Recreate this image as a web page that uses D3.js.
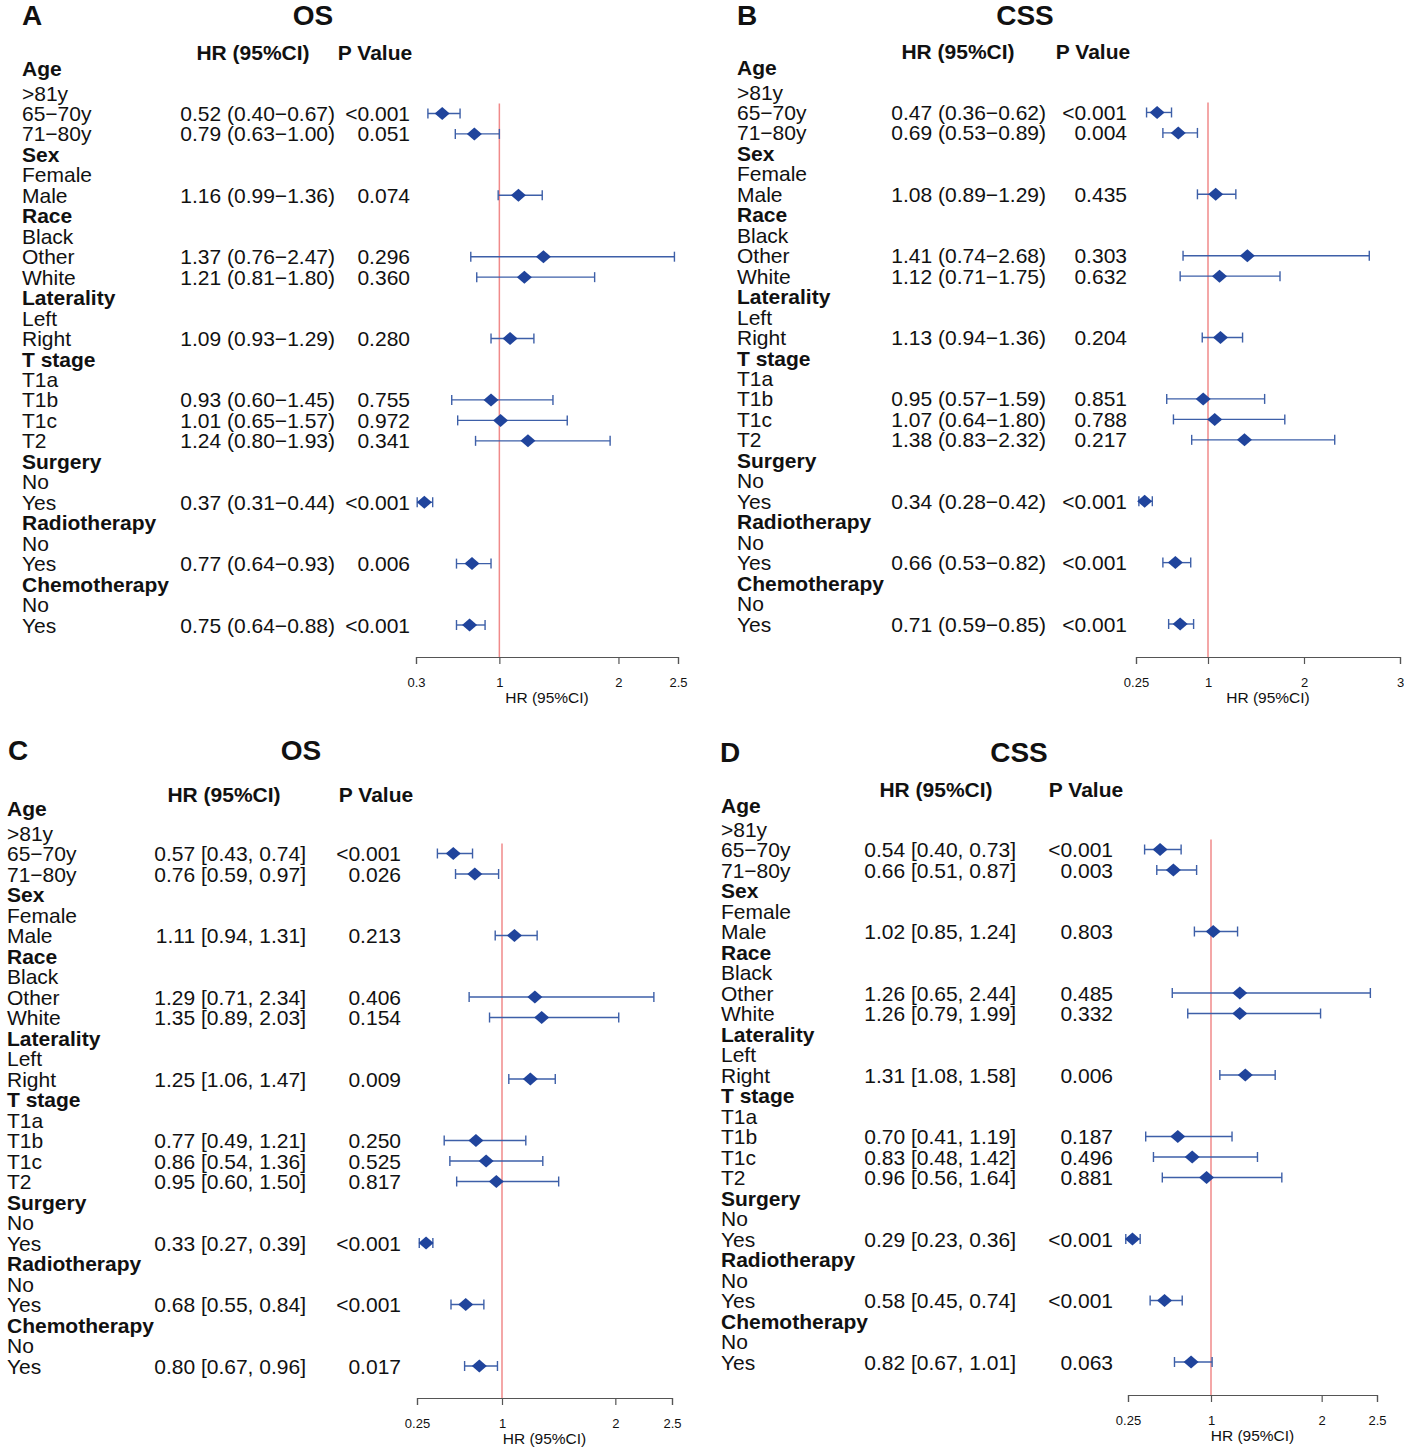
<!DOCTYPE html>
<html>
<head>
<meta charset="utf-8">
<script src="https://cdn.jsdelivr.net/npm/d3@7"></script>
<style>
  body { margin: 0; background: #fff; }
  svg text { font-family: "Liberation Sans", Arial, Helvetica, sans-serif; fill: #111; }
</style>
</head>
<body>
<svg id="chart" width="1404" height="1450"></svg>
<script>
// row labels shared by all four panels
const rowLabels = ['Age', '>81y', '65−70y', '71−80y', 'Sex', 'Female', 'Male',
  'Race', 'Black', 'Other', 'White', 'Laterality', 'Left', 'Right',
  'T stage', 'T1a', 'T1b', 'T1c', 'T2', 'Surgery', 'No', 'Yes',
  'Radiotherapy', 'No', 'Yes', 'Chemotherapy', 'No', 'Yes'];
const groupRows = [0, 4, 7, 11, 14, 19, 22, 25];
// rows that carry an estimate (others are headers / reference levels)
const estRows = [2, 3, 6, 9, 10, 13, 16, 17, 18, 21, 24, 27];

// Panel A - OS
const hrA = [0.52, 0.79, 1.16, 1.37, 1.21, 1.09, 0.93, 1.01, 1.24, 0.37, 0.77, 0.75];
const loA = [0.40, 0.63, 0.99, 0.76, 0.81, 0.93, 0.60, 0.65, 0.80, 0.31, 0.64, 0.64];
const hiA = [0.67, 1.00, 1.36, 2.47, 1.80, 1.29, 1.45, 1.57, 1.93, 0.44, 0.93, 0.88];
const pA = ['<0.001', '0.051', '0.074', '0.296', '0.360', '0.280', '0.755', '0.972', '0.341', '<0.001', '0.006', '<0.001'];
const ticksA = [0.3, 1, 2, 2.5];

// Panel B - CSS
const hrB = [0.47, 0.69, 1.08, 1.41, 1.12, 1.13, 0.95, 1.07, 1.38, 0.34, 0.66, 0.71];
const loB = [0.36, 0.53, 0.89, 0.74, 0.71, 0.94, 0.57, 0.64, 0.83, 0.28, 0.53, 0.59];
const hiB = [0.62, 0.89, 1.29, 2.68, 1.75, 1.36, 1.59, 1.80, 2.32, 0.42, 0.82, 0.85];
const pB = ['<0.001', '0.004', '0.435', '0.303', '0.632', '0.204', '0.851', '0.788', '0.217', '<0.001', '<0.001', '<0.001'];
const ticksB = [0.25, 1, 2, 3];

// Panel C - OS
const hrC = [0.57, 0.76, 1.11, 1.29, 1.35, 1.25, 0.77, 0.86, 0.95, 0.33, 0.68, 0.80];
const loC = [0.43, 0.59, 0.94, 0.71, 0.89, 1.06, 0.49, 0.54, 0.60, 0.27, 0.55, 0.67];
const hiC = [0.74, 0.97, 1.31, 2.34, 2.03, 1.47, 1.21, 1.36, 1.50, 0.39, 0.84, 0.96];
const pC = ['<0.001', '0.026', '0.213', '0.406', '0.154', '0.009', '0.250', '0.525', '0.817', '<0.001', '<0.001', '0.017'];
const ticksC = [0.25, 1, 2, 2.5];

// Panel D - CSS
const hrD = [0.54, 0.66, 1.02, 1.26, 1.26, 1.31, 0.70, 0.83, 0.96, 0.29, 0.58, 0.82];
const loD = [0.40, 0.51, 0.85, 0.65, 0.79, 1.08, 0.41, 0.48, 0.56, 0.23, 0.45, 0.67];
const hiD = [0.73, 0.87, 1.24, 2.44, 1.99, 1.58, 1.19, 1.42, 1.64, 0.36, 0.74, 1.01];
const pD = ['<0.001', '0.003', '0.803', '0.485', '0.332', '0.006', '0.187', '0.496', '0.881', '<0.001', '<0.001', '0.063'];
const ticksD = [0.25, 1, 2, 2.5];

const fmtParen = (h, l, u) => `${h.toFixed(2)} (${l.toFixed(2)}−${u.toFixed(2)})`;
const fmtBracket = (h, l, u) => `${h.toFixed(2)} [${l.toFixed(2)}, ${u.toFixed(2)}]`;

// layout: ageY = first label row, rowY1..rowY2 = remaining rows
const panels = [
  { letter: 'A', title: 'OS', hr: hrA, lo: loA, hi: hiA, p: pA, ticks: ticksA, fmt: fmtParen,
    letterX: 22, titleX: 313, titleY: 15, headY: 52, hrHeadX: 253, pHeadX: 375,
    labelX: 22, ageY: 68, rowY1: 93, rowY2: 625, hrEnd: 335, pEnd: 410, plotX0: 416, plotX1: 678, axisY: 657 },
  { letter: 'B', title: 'CSS', hr: hrB, lo: loB, hi: hiB, p: pB, ticks: ticksB, fmt: fmtParen,
    letterX: 737, titleX: 1025, titleY: 15, headY: 51, hrHeadX: 958, pHeadX: 1093,
    labelX: 737, ageY: 67, rowY1: 92, rowY2: 624, hrEnd: 1046, pEnd: 1127, plotX0: 1136, plotX1: 1400, axisY: 657 },
  { letter: 'C', title: 'OS', hr: hrC, lo: loC, hi: hiC, p: pC, ticks: ticksC, fmt: fmtBracket,
    letterX: 8, titleX: 301, titleY: 750, headY: 794, hrHeadX: 224, pHeadX: 376,
    labelX: 7, ageY: 808, rowY1: 833, rowY2: 1366, hrEnd: 306, pEnd: 401, plotX0: 417, plotX1: 672, axisY: 1398 },
  { letter: 'D', title: 'CSS', hr: hrD, lo: loD, hi: hiD, p: pD, ticks: ticksD, fmt: fmtBracket,
    letterX: 720, titleX: 1019, titleY: 752, headY: 789, hrHeadX: 936, pHeadX: 1086,
    labelX: 721, ageY: 805, rowY1: 829, rowY2: 1362, hrEnd: 1016, pEnd: 1113, plotX0: 1128, plotX1: 1377, axisY: 1395 }
];

const svg = d3.select('#chart');
const palette = { point: '#20449c', ci: '#3d5fa8', ref: '#f08a8a', axis: '#555' };

const drawPanel = (cfg) => {
  const g = svg.append('g');
  const x = d3.scaleLinear()
    .domain(d3.extent(cfg.ticks))
    .range([cfg.plotX0, cfg.plotX1]);
  const y = d3.scaleLinear()
    .domain([0, 1, rowLabels.length - 1])
    .range([cfg.ageY, cfg.rowY1, cfg.rowY2]);

  // panel letter and title
  g.append('text').attr('x', cfg.letterX).attr('y', cfg.titleY).attr('dy', '0.36em')
    .attr('font-size', 28).attr('font-weight', 'bold').text(cfg.letter);
  g.append('text').attr('x', cfg.titleX).attr('y', cfg.titleY).attr('dy', '0.36em')
    .attr('text-anchor', 'middle').attr('font-size', 28).attr('font-weight', 'bold').text(cfg.title);

  // column headers
  g.append('text').attr('x', cfg.hrHeadX).attr('y', cfg.headY).attr('dy', '0.36em')
    .attr('text-anchor', 'middle').attr('font-size', 21).attr('font-weight', 'bold').text('HR (95%CI)');
  g.append('text').attr('x', cfg.pHeadX).attr('y', cfg.headY).attr('dy', '0.36em')
    .attr('text-anchor', 'middle').attr('font-size', 21).attr('font-weight', 'bold').text('P Value');

  // row labels
  g.selectAll('text.label').data(rowLabels).enter()
    .append('text').attr('class', 'label')
    .attr('x', cfg.labelX)
    .attr('y', (d, i) => y(i))
    .attr('dy', '0.36em')
    .attr('font-size', 21)
    .attr('font-weight', (d, i) => (groupRows.includes(i) ? 'bold' : 'normal'))
    .text(d => d);

  const rows = estRows.map((r, i) => ({
    row: r, hr: cfg.hr[i], lo: cfg.lo[i], hi: cfg.hi[i], p: cfg.p[i],
  }));

  // HR text and p values
  g.selectAll('text.hr').data(rows).enter()
    .append('text').attr('class', 'hr')
    .attr('x', cfg.hrEnd).attr('y', d => y(d.row)).attr('dy', '0.36em')
    .attr('text-anchor', 'end').attr('font-size', 21)
    .text(d => cfg.fmt(d.hr, d.lo, d.hi));
  g.selectAll('text.pv').data(rows).enter()
    .append('text').attr('class', 'pv')
    .attr('x', cfg.pEnd).attr('y', d => y(d.row)).attr('dy', '0.36em')
    .attr('text-anchor', 'end').attr('font-size', 21)
    .text(d => d.p);

  // reference line at HR = 1
  g.append('line')
    .attr('x1', x(1)).attr('x2', x(1))
    .attr('y1', y(estRows[0]) - 10).attr('y2', cfg.axisY)
    .attr('stroke', palette.ref).attr('stroke-width', 1.5);

  // x axis
  const axis = d3.axisBottom(x).tickValues(cfg.ticks).tickSizeOuter(0).tickSize(7)
    .tickFormat(d3.format('~g'));
  const ax = g.append('g').attr('transform', `translate(0,${cfg.axisY})`).call(axis);
  ax.select('.domain').attr('stroke', palette.axis).attr('stroke-width', 1.2);
  ax.selectAll('.tick line').attr('stroke', palette.axis).attr('stroke-width', 1.2);
  ax.selectAll('.tick text').attr('font-size', 13).attr('fill', '#111')
    .attr('font-family', '"Liberation Sans", Arial, sans-serif').attr('dy', '1.55em');
  g.append('text')
    .attr('x', (cfg.plotX0 + cfg.plotX1) / 2).attr('y', cfg.axisY + 40)
    .attr('dy', '0.36em').attr('text-anchor', 'middle').attr('font-size', 15.5)
    .text('HR (95%CI)');

  // confidence intervals
  const ci = g.selectAll('g.ci').data(rows).enter().append('g').attr('class', 'ci');
  ci.append('line')
    .attr('x1', d => x(d.lo)).attr('x2', d => x(d.hi))
    .attr('y1', d => y(d.row)).attr('y2', d => y(d.row))
    .attr('stroke', palette.ci).attr('stroke-width', 1.4);
  ci.append('line')
    .attr('x1', d => x(d.lo)).attr('x2', d => x(d.lo))
    .attr('y1', d => y(d.row) - 5).attr('y2', d => y(d.row) + 5)
    .attr('stroke', palette.ci).attr('stroke-width', 1.4);
  ci.append('line')
    .attr('x1', d => x(d.hi)).attr('x2', d => x(d.hi))
    .attr('y1', d => y(d.row) - 5).attr('y2', d => y(d.row) + 5)
    .attr('stroke', palette.ci).attr('stroke-width', 1.4);
  // point estimates
  ci.append('path')
    .attr('d', d => {
      const cx = x(d.hr);
      const cy = y(d.row);
      return `M${cx - 7.5},${cy}L${cx},${cy - 6.5}L${cx + 7.5},${cy}L${cx},${cy + 6.5}Z`;
    })
    .attr('fill', palette.point);
};

panels.forEach(drawPanel);
</script>
</body>
</html>
